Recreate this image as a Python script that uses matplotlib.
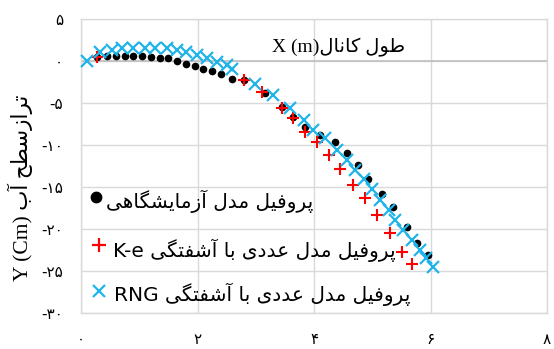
import matplotlib
matplotlib.use("Agg")
import matplotlib.pyplot as plt
from matplotlib.ticker import FuncFormatter

# ---------------- data ----------------
exp_x = [0.27, 0.45, 0.6, 0.75, 0.9, 1.05, 1.2, 1.35, 1.5, 1.65, 1.8, 1.95, 2.1, 2.25, 2.4, 2.59, 2.79,
         3.16, 3.45, 3.64, 3.85, 4.10, 4.36, 4.56, 4.76, 4.93, 5.16, 5.36, 5.59, 5.76, 5.96]
exp_y = [0.5, 0.6, 0.6, 0.6, 0.6, 0.6, 0.5, 0.4, 0.3, 0.0, -0.3, -0.6, -0.9, -1.2, -1.5, -2.1, -2.3,
         -3.8, -5.5, -6.7, -7.9, -8.8, -9.6, -11.0, -12.4, -14.0, -15.8, -17.4, -19.8, -21.7, -23.1]

ke_x = [0.27, 2.79, 3.10, 3.45, 3.64, 3.85, 4.05, 4.25, 4.45, 4.67, 4.88, 5.08, 5.30, 5.51, 5.69]
ke_y = [0.5, -2.3, -3.7, -5.6, -6.8, -8.4, -9.6, -11.2, -12.8, -14.8, -16.3, -18.3, -20.5, -22.7, -24.2]

rng_x = [0.10, 0.33, 0.53, 0.70, 0.90, 1.10, 1.27, 1.47, 1.64, 1.81, 1.99, 2.16, 2.33, 2.50, 2.59,
         2.99, 3.30, 3.59, 3.82, 3.99, 4.19, 4.39, 4.56, 4.70, 4.85, 4.99, 5.13, 5.28, 5.39, 5.53,
         5.68, 5.82, 5.93, 6.05]
rng_y = [0.0, 1.1, 1.3, 1.5, 1.5, 1.5, 1.5, 1.5, 1.3, 1.1, 0.7, 0.3, -0.1, -0.5, -0.9,
         -2.7, -4.0, -5.6, -7.0, -8.2, -9.2, -10.6, -11.8, -13.0, -14.0, -15.2, -16.5, -17.7, -18.9, -20.1,
         -21.3, -22.5, -23.5, -24.5]

x_ticks = [0, 2, 4, 6, 8]
y_ticks = [5, 0, -5, -10, -15, -20, -25, -30]

title_fa = "طول کانال"
title_en = "X (m)"
ylabel_fa = "ترازسطح آب"
ylabel_en = "Y (Cm)"
leg_exp_fa = "پروفیل مدل آزمایشگاهی"
leg_num_fa = "پروفیل مدل عددی با آشفتگی"
leg_ke_en = "K-e"
leg_rng_en = "RNG"

# ------------- minimal Persian shaping -------------
FORMS = {
    'ا': ('\uFE8D', '\uFE8E'), 'آ': ('\uFE81', '\uFE82'),
    'د': ('\uFEA9', '\uFEAA'), 'ر': ('\uFEAD', '\uFEAE'),
    'ز': ('\uFEAF', '\uFEB0'), 'و': ('\uFEED', '\uFEEE'),
    'ب': ('\uFE8F', '\uFE90', '\uFE91', '\uFE92'),
    'پ': ('\uFB56', '\uFB57', '\uFB58', '\uFB59'),
    'ت': ('\uFE95', '\uFE96', '\uFE97', '\uFE98'),
    'ح': ('\uFEA1', '\uFEA2', '\uFEA3', '\uFEA4'),
    'س': ('\uFEB1', '\uFEB2', '\uFEB3', '\uFEB4'),
    'ش': ('\uFEB5', '\uFEB6', '\uFEB7', '\uFEB8'),
    'ط': ('\uFEC1', '\uFEC2', '\uFEC3', '\uFEC4'),
    'ع': ('\uFEC9', '\uFECA', '\uFECB', '\uFECC'),
    'ف': ('\uFED1', '\uFED2', '\uFED3', '\uFED4'),
    'ک': ('\uFB8E', '\uFB8F', '\uFB90', '\uFB91'),
    'گ': ('\uFB92', '\uFB93', '\uFB94', '\uFB95'),
    'ل': ('\uFEDD', '\uFEDE', '\uFEDF', '\uFEE0'),
    'م': ('\uFEE1', '\uFEE2', '\uFEE3', '\uFEE4'),
    'ن': ('\uFEE5', '\uFEE6', '\uFEE7', '\uFEE8'),
    'ه': ('\uFEE9', '\uFEEA', '\uFEEB', '\uFEEC'),
    'ی': ('\uFBFC', '\uFBFD', '\uFBFE', '\uFBFF'),
}


def shape(s):
    out = []
    for i, c in enumerate(s):
        if c not in FORMS:
            out.append(c)
            continue
        prev = s[i - 1] if i > 0 else None
        nxt = s[i + 1] if i + 1 < len(s) else None
        jp = prev in FORMS and len(FORMS[prev]) == 4
        jn = len(FORMS[c]) == 4 and nxt in FORMS
        f = FORMS[c]
        if jp and jn:
            out.append(f[3])
        elif jp:
            out.append(f[1])
        elif jn:
            out.append(f[2])
        else:
            out.append(f[0])
    return ''.join(out)


def rtl(s):
    return shape(s)[::-1]


FA_DIGITS = str.maketrans('0123456789', '۰۱۲۳۴۵۶۷۸۹')


def fa_num(v, pos=None):
    return ('%d' % v).translate(FA_DIGITS)


# ---------------- figure ----------------
W, H = 554, 349
fig = plt.figure(figsize=(W / 100, H / 100), dpi=100)
L, R, T, B = 81, 547, 19, 313
ax = fig.add_axes([L / W, 1 - B / H, (R - L) / W, (B - T) / H])

ax.set_xlim(0, 8)
ax.set_ylim(-30, 5)
ax.set_xticks(x_ticks)
ax.set_yticks(y_ticks)
ax.xaxis.set_major_formatter(FuncFormatter(fa_num))
ax.yaxis.set_major_formatter(FuncFormatter(fa_num))
ax.grid(True, color='#d9d9d9', linewidth=1.0)
ax.set_axisbelow(True)
for s in ax.spines.values():
    s.set_color('#d9d9d9')
    s.set_linewidth(1.0)
ax.axhline(0, color='#bfbfbf', linewidth=1.2, zorder=1)
ax.tick_params(length=0, labelsize=11, colors='#000000')
ax.tick_params(axis='x', pad=13.5)
ax.tick_params(axis='y', pad=13)
for lab in ax.get_xticklabels() + ax.get_yticklabels():
    lab.set_family(['DejaVu Sans'])

ax.plot(exp_x, exp_y, linestyle='none', marker='o', markersize=4.5,
        color='black', zorder=3, clip_on=False)
ax.plot(ke_x, ke_y, linestyle='none', marker='+', markersize=8,
        markeredgewidth=1.5, color='#ff0000', zorder=4, clip_on=False)
ax.plot(rng_x, rng_y, linestyle='none', marker='x', markersize=9,
        markeredgewidth=1.6, color='#1fb4ea', zorder=5, clip_on=False)

# title inside plot
ax.text((272 - L) / (R - L), (B - 52) / (B - T), title_en + rtl(title_fa),
        transform=ax.transAxes, ha='left', va='baseline', fontsize=14,
        family=['Liberation Serif', 'DejaVu Sans'], color='black')

# y label
fig.text(20 / W, 1 - 188 / H, ylabel_en + ' ' + rtl(ylabel_fa), rotation=90,
         ha='center', va='center', fontsize=15.5,
         family=['Liberation Serif', 'DejaVu Sans'], color='black')

# legend (manual, no frame)
def axf(px, py):
    return (px - L) / (R - L), (B - py) / (B - T)

leg_font = ['DejaVu Sans']
leg_fs = 14.5
ax.plot(*axf(96, 197), transform=ax.transAxes, marker='o', markersize=7.5,
        color='black', linestyle='none', clip_on=False)
ax.text(*axf(106, 208), rtl(leg_exp_fa), transform=ax.transAxes, ha='left',
        va='baseline', fontsize=leg_fs, family=leg_font)
ax.plot(*axf(99, 245), transform=ax.transAxes, marker='+', markersize=10,
        markeredgewidth=1.6, color='#ff0000', linestyle='none', clip_on=False)
ax.text(*axf(113, 257), leg_ke_en + ' ' + rtl(leg_num_fa), transform=ax.transAxes,
        ha='left', va='baseline', fontsize=leg_fs, family=leg_font)
ax.plot(*axf(99, 291), transform=ax.transAxes, marker='x', markersize=9,
        markeredgewidth=1.6, color='#1fb4ea', linestyle='none', clip_on=False)
ax.text(*axf(114, 301), leg_rng_en + ' ' + rtl(leg_num_fa), transform=ax.transAxes,
        ha='left', va='baseline', fontsize=leg_fs, family=leg_font)

fig.savefig('out.png', dpi=100)
